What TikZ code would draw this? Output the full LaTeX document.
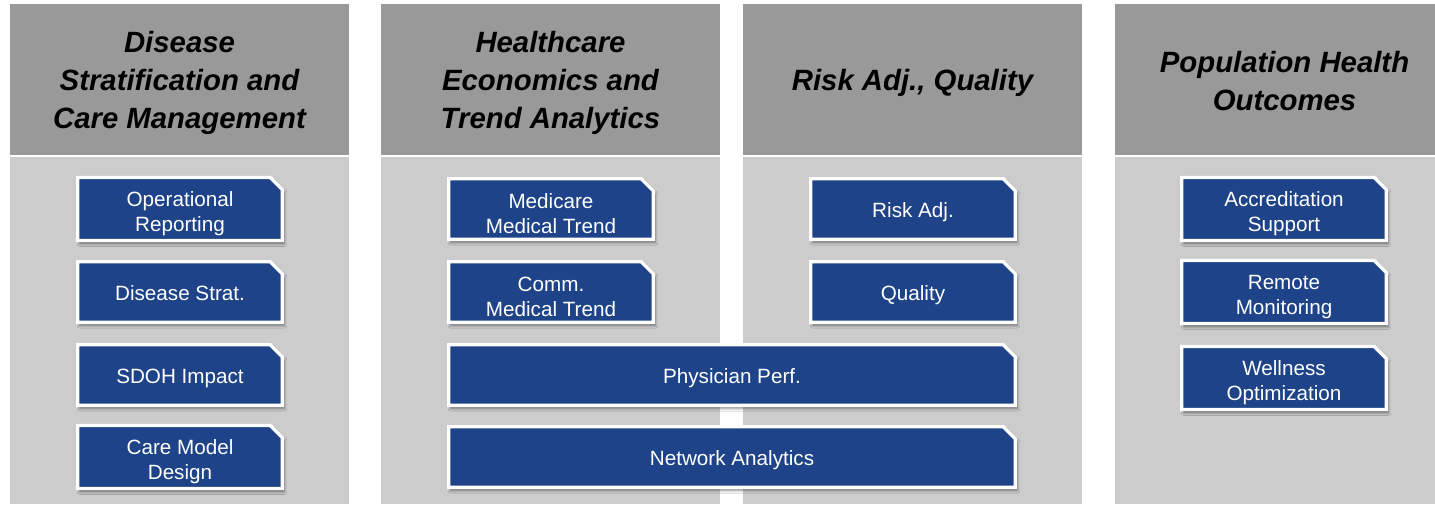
\documentclass[tikz,border=0pt]{standalone}
\usepackage{fontspec}
\setmainfont{Liberation Sans}
\usetikzlibrary{shapes.misc,shadows.blur}
\definecolor{headgray}{HTML}{999999}
\definecolor{bodygray}{HTML}{CCCCCC}
\definecolor{itemblue}{HTML}{1E4388}
\tikzset{
	colhead/.style={rectangle,fill=headgray,minimum width=254.25pt,minimum height=113.25pt,inner sep=0pt,align=center,text height=77.5pt,font=\fontsize{22}{28.5}\selectfont\bfseries\itshape},
	colbody/.style={rectangle,fill=bodygray,minimum width=254.25pt,minimum height=259.9pt,inner sep=0pt},
	itembox/.style={chamfered rectangle,chamfered rectangle corners=north east,chamfered rectangle xsep=5.5pt,fill=itemblue,draw=white,line width=2.6pt,text=white,align=center,minimum width=153.4pt,minimum height=45.4pt,inner sep=0pt,text height=13pt,text depth=0pt,font=\fontsize{15.5}{18.75}\selectfont,blur shadow={shadow xshift=1.5pt,shadow yshift=-2.4pt,shadow blur radius=2pt,shadow opacity=50}},
	twoline/.style={text height=37pt,text depth=},
	widebox/.style={itembox,minimum width=424.9pt}
}
\begin{document}
\begin{tikzpicture}[x=0.75pt,y=-0.75pt]
		\useasboundingbox (0,0) rectangle (1435,504);
		\fill[white] (0,0) rectangle (1435,504);
		% column backgrounds
		\node[colbody] (b1) at (179.5,330.75) {};
		\node[colbody] (b2) at (550.5,330.75) {};
		\node[colbody] (b3) at (912.5,330.75) {};
		\node[colbody] (b4) at (1284.5,330.75) {};
		% column titles
		\node[colhead] (h1) at (179.5,79.5) {Disease\\Stratification and\\Care Management};
		\node[colhead] (h2) at (550.5,79.5) {Healthcare\\Economics and\\Trend Analytics};
		\node[colhead,text height=16pt,text depth=0pt] (h3) at (912.5,79.5) {Risk Adj., Quality};
		\node[colhead,text height=46.1pt] (h4) at (1284.5,79.5) {Population Health\\Outcomes};
		% first column
		\node[itembox,twoline] (oprep) at (180,209) {Operational\\Reporting};
		\node[itembox] (disstrat) at (180,292) {Disease Strat.};
		\node[itembox] (sdoh) at (180,375) {SDOH Impact};
		\node[itembox,twoline] (caremodel) at (180,457) {Care Model\\Design};
		% second and third column
		\node[itembox,twoline] (medicare) at (551,209) {Medicare\\Medical Trend};
		\node[itembox,twoline] (comm) at (551,292) {Comm.\\Medical Trend};
		\node[itembox] (riskadj) at (913,209) {Risk Adj.};
		\node[itembox] (quality) at (913,292) {Quality};
		\node[widebox] (physperf) at (732,375) {Physician Perf.};
		\node[widebox] (network) at (732,457) {Network Analytics};
		% fourth column
		\node[itembox,twoline] (accred) at (1284,209) {Accreditation\\Support};
		\node[itembox,twoline] (remote) at (1284,292) {Remote\\Monitoring};
		\node[itembox,twoline] (wellness) at (1284,378) {Wellness\\Optimization};
\end{tikzpicture}
\end{document}
